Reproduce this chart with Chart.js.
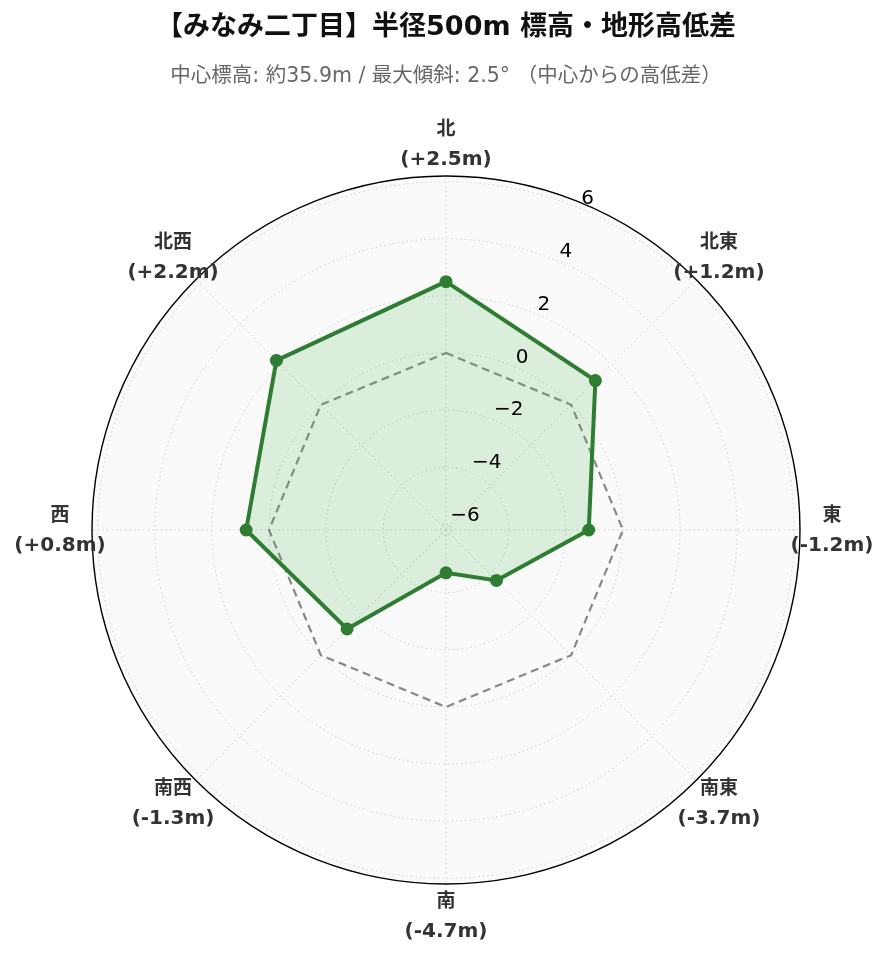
<!DOCTYPE html>
<html>
<head>
<meta charset="utf-8">
<script src="https://cdn.jsdelivr.net/npm/chart.js@4/dist/chart.umd.min.js"></script>
<style>
  body { margin: 0; background: #fff; }
  #wrap { width: 889px; height: 962px; }
</style>
</head>
<body>
<div id="wrap"><canvas id="elevChart"></canvas></div>
<script>
'use strict';

const directions = ['北', '北東', '東', '南東', '南', '南西', '西', '北西'];
const diffs = [2.5, 1.2, -1.2, -3.7, -4.7, -1.3, 0.8, 2.2];
const zeroLine = [0, 0, 0, 0, 0, 0, 0, 0];
const tickValues = [-6, -4, -2, 0, 2, 4, 6];
const tickLabels = ['−6', '−4', '−2', '0', '2', '4', '6'];

const FONT = "'DejaVu Sans', 'Noto Sans CJK JP', sans-serif";

// labels under each direction: "(+2.5m)"
const diffLabels = diffs.map(v => '(' + (v > 0 ? '+' : '') + v.toFixed(1) + 'm)');

const polarDecor = {
  id: 'polarDecor',
  beforeDraw(chart) {
    const s = chart.scales.r;
    const ctx = chart.ctx;
    ctx.save();
    ctx.beginPath();
    ctx.arc(s.xCenter, s.yCenter, s.drawingArea, 0, Math.PI * 2);
    ctx.fillStyle = '#fafafa';
    ctx.fill();
    ctx.restore();
  },
  afterDatasetsDraw(chart) {
    const s = chart.scales.r;
    const ctx = chart.ctx;
    ctx.save();
    // outer frame
    ctx.beginPath();
    ctx.arc(s.xCenter, s.yCenter, s.drawingArea, 0, Math.PI * 2);
    ctx.strokeStyle = '#000';
    ctx.lineWidth = 1.4;
    ctx.stroke();

    // radial tick labels along 22.5 deg
    const ang = 22.5 * Math.PI / 180;
    ctx.font = '20px ' + FONT;
    ctx.fillStyle = '#000';
    ctx.textAlign = 'left';
    ctx.textBaseline = 'bottom';
    tickValues.forEach((v, i) => {
      const d = s.getDistanceFromCenterForValue(v);
      const x = s.xCenter + Math.sin(ang) * d;
      const y = s.yCenter - Math.cos(ang) * d;
      ctx.fillText(tickLabels[i], x + 2, y + 1);
    });

    // direction labels
    ctx.textAlign = 'center';
    ctx.textBaseline = 'middle';
    ctx.fillStyle = '#333';
    directions.forEach((name, i) => {
      const p = s.getPointPosition(i, s.drawingArea + 32);
      ctx.font = 'bold 19px ' + FONT;
      ctx.fillText(name, p.x, p.y - 14);
      ctx.font = 'bold 20px ' + FONT;
      ctx.fillText(diffLabels[i], p.x, p.y + 16);
    });
    ctx.restore();
  }
};

const chartObject = {
  type: 'radar',
  data: {
    labels: directions,
    datasets: [{
      label: '高低差',
      data: diffs,
      borderColor: '#2e7d32',
      backgroundColor: 'rgba(76, 175, 80, 0.18)',
      borderWidth: 4,
      pointRadius: 4.5,
      pointBackgroundColor: '#2e7d32',
      pointBorderColor: '#2e7d32',
      fill: 'start',
      tension: 0
    }, {
      label: '中心',
      data: zeroLine,
      borderColor: '#888',
      borderWidth: 2.2,
      borderDash: [8, 5],
      pointRadius: 0,
      fill: false
    }]
  },
  options: {
    responsive: true,
    maintainAspectRatio: false,
    animation: false,
    devicePixelRatio: 1,
    layout: { padding: { left: 91, right: 88, top: 0, bottom: 77 } },
    plugins: {
      legend: { display: false },
      tooltip: { enabled: false },
      title: {
        display: true,
        text: '【みなみ二丁目】半径500m 標高・地形高低差',
        color: '#111',
        font: { family: FONT, size: 27, weight: 'bold' },
        padding: { top: 12, bottom: 20 }
      },
      subtitle: {
        display: true,
        text: '中心標高: 約35.9m / 最大傾斜: 2.5° （中心からの高低差）',
        color: '#666',
        font: { family: FONT, size: 20.5 },
        padding: { top: 0, bottom: 87 }
      }
    },
    scales: {
      r: {
        min: -6.2,
        max: 6.2,
        afterBuildTicks(scale) {
          scale.ticks = tickValues.map(v => ({ value: v }));
        },
        ticks: { display: false },
        pointLabels: { display: false },
        grid: {
          circular: true,
          color: '#d0d0d0',
          lineWidth: 1
        },
        border: { dash: [1.5, 3] },
        angleLines: {
          display: true,
          color: '#d0d0d0',
          lineWidth: 1,
          borderDash: [1.5, 3]
        }
      }
    }
  },
  plugins: [polarDecor]
};

const ctx = document.getElementById('elevChart').getContext('2d');
const myChart = new Chart(ctx, chartObject);
</script>
</body>
</html>
